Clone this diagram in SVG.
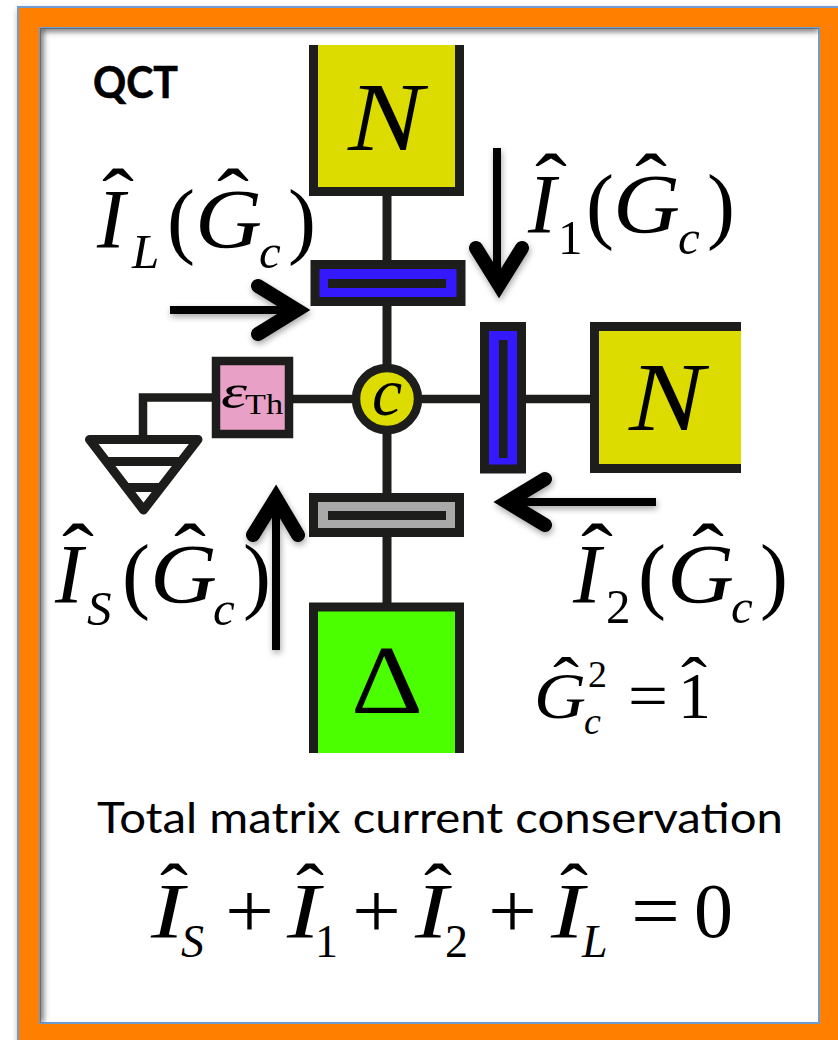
<svg xmlns="http://www.w3.org/2000/svg" width="838" height="1040" viewBox="0 0 838 1040">
<style>
.k{fill:none;stroke:#1d1d1b;stroke-width:9}
.w{fill:none;stroke:#1d1d1b;stroke-width:8.5}
.a{fill:none;stroke:#000;stroke-width:8}
.h{fill:none;stroke:#000;stroke-width:14;stroke-linecap:round;stroke-linejoin:miter;stroke-miterlimit:6}
.m{font-family:"Liberation Serif",serif;fill:#000;font-size:84px}
.i{font-style:italic}
.s{font-size:49px}
.t{font-size:78px}
.ts{font-size:46px}
.sm{font-size:66px}
.ss{font-size:38px}
.cal{font-family:Lato,"Open Sans",sans-serif;fill:#000}
</style>
<defs>
<filter id="sh" x="-30%" y="-30%" width="160%" height="160%"><feDropShadow dx="1" dy="3" stdDeviation="3" flood-color="#000" flood-opacity="0.35"/></filter>
<filter id="bl" x="-5%" y="-5%" width="110%" height="110%"><feGaussianBlur stdDeviation="3"/></filter>
<clipPath id="ic"><rect x="40" y="28" width="779" height="995"/></clipPath>
</defs>
<g id="frame">
<rect x="18" y="7" width="840" height="1053" fill="#ff7f00" stroke="#6f9ccf" stroke-width="2" filter="url(#sh)"/>
<rect x="40" y="28" width="779" height="995" fill="#fff" stroke="#6f9ccf" stroke-width="2"/>
<g clip-path="url(#ic)"><path d="M40 1023V28H819" fill="none" stroke="#555" stroke-width="6" filter="url(#bl)"/></g>
</g>
<g id="connectors">
<path class="k" d="M387 196V260M387 306V366M387 433V493M387 537V603"/>
<path class="w" d="M293 399H353M421 399H480M526 399H590M212 397.500H143V436"/>
</g>
<g id="node-n-top">
<rect x="313.500" y="45" width="146" height="146.500" fill="#dcdc00"/>
<path class="k" d="M313.500 45V191.500H459.500V45"/>
<text class="m i" x="348" y="150" style="font-size:97px" textLength="75" lengthAdjust="spacingAndGlyphs">N</text>
</g>
<g id="node-bar-l">
<rect x="315" y="264.500" width="146" height="37" fill="#3419ff" stroke="#1d1d1b" stroke-width="9"/>
<rect x="328" y="279" width="118" height="9" fill="#1d1d1b"/>
</g>
<g id="node-bar-1">
<rect x="484.500" y="326.500" width="37" height="142.500" fill="#3419ff" stroke="#1d1d1b" stroke-width="9"/>
<rect x="499" y="340" width="8.500" height="118" fill="#1d1d1b"/>
</g>
<g id="node-n-right">
<rect x="594.500" y="326.500" width="146.500" height="142.500" fill="#dcdc00"/>
<path class="k" d="M741 326.500H594.500V468.500H741"/>
<text class="m i" x="629" y="430" style="font-size:97px" textLength="75" lengthAdjust="spacingAndGlyphs">N</text>
</g>
<g id="node-c">
<circle cx="387" cy="399" r="31" fill="#dcdc00" stroke="#1d1d1b" stroke-width="8.500"/>
<text class="m i" x="372" y="415" style="font-size:68px">c</text>
</g>
<g id="node-eth">
<rect x="216" y="361" width="73" height="73" fill="#e8a0c6" stroke="#1d1d1b" stroke-width="8.500"/>
<text class="m i" x="221" y="408" style="font-size:48px" textLength="26" lengthAdjust="spacingAndGlyphs">ε</text>
<text class="m" x="245" y="414" style="font-size:29px" textLength="38" lengthAdjust="spacingAndGlyphs">Th</text>
</g>
<g id="node-ground">
<path d="M89.500 439.500H198L143.500 510Z" fill="#fff" stroke="#1d1d1b" stroke-width="9" stroke-linejoin="round"/>
<path class="k" d="M107 461.500H180M126 487.500H160"/>
</g>
<g id="node-bar-s">
<rect x="313.500" y="497.500" width="146" height="35" fill="#a9a9a9" stroke="#1d1d1b" stroke-width="9"/>
<rect x="328" y="511" width="118" height="9" fill="#1d1d1b"/>
</g>
<g id="node-delta">
<rect x="313.500" y="607" width="146" height="146" fill="#4cff00"/>
<path class="k" d="M313.500 753V607H459.500V753"/>
<text class="m" x="351" y="713" style="font-size:97px" textLength="72" lengthAdjust="spacingAndGlyphs">Δ</text>
</g>
<g id="arrows" filter="url(#sh)">
<path class="a" d="M170 310H300"/><path class="h" d="M258 286L297 310L258 334"/>
<path class="a" d="M497 148V285"/><path class="h" d="M476 248L499 285L522 248"/>
<path class="a" d="M276 650V500"/><path class="h" d="M253 535L276 498L298 535"/>
<path class="a" d="M656 502H510"/><path class="h" d="M545 479L507 502L545 525"/>
</g>
<g id="label-qct"><text class="cal" x="93" y="98" font-size="44" font-weight="700" stroke="#000" stroke-width=".6" textLength="85" lengthAdjust="spacingAndGlyphs">QCT</text></g>
<g id="label-il">
<text class="m i" x="97" y="248">I</text><text class="m" x="102" y="227" textLength="32" lengthAdjust="spacingAndGlyphs">ˆ</text>
<text class="m i s" x="132" y="268">L</text>
<text class="m" x="167" y="248">(</text>
<text class="m i" x="195" y="248" textLength="67" lengthAdjust="spacingAndGlyphs">G</text><text class="m" x="217" y="227" textLength="32" lengthAdjust="spacingAndGlyphs">ˆ</text>
<text class="m i s" x="259" y="268">c</text>
<text class="m" x="288" y="248">)</text>
</g>
<g id="label-i1">
<text class="m i" x="528" y="233">I</text><text class="m" x="535" y="212" textLength="32" lengthAdjust="spacingAndGlyphs">ˆ</text>
<text class="m s" x="558" y="254">1</text>
<text class="m" x="586" y="233">(</text>
<text class="m i" x="613" y="233" textLength="67" lengthAdjust="spacingAndGlyphs">G</text><text class="m" x="635" y="212" textLength="32" lengthAdjust="spacingAndGlyphs">ˆ</text>
<text class="m i s" x="678" y="254">c</text>
<text class="m" x="707" y="233">)</text>
</g>
<g id="label-is">
<text class="m i" x="55" y="603">I</text><text class="m" x="62" y="582" textLength="32" lengthAdjust="spacingAndGlyphs">ˆ</text>
<text class="m i s" x="87" y="625">S</text>
<text class="m" x="122" y="603">(</text>
<text class="m i" x="150" y="603" textLength="67" lengthAdjust="spacingAndGlyphs">G</text><text class="m" x="174" y="582" textLength="32" lengthAdjust="spacingAndGlyphs">ˆ</text>
<text class="m i s" x="213" y="625">c</text>
<text class="m" x="243" y="603">)</text>
</g>
<g id="label-i2">
<text class="m i" x="573" y="603">I</text><text class="m" x="581" y="582" textLength="32" lengthAdjust="spacingAndGlyphs">ˆ</text>
<text class="m s" x="606" y="623">2</text>
<text class="m" x="638" y="603">(</text>
<text class="m i" x="667" y="603" textLength="67" lengthAdjust="spacingAndGlyphs">G</text><text class="m" x="692" y="582" textLength="32" lengthAdjust="spacingAndGlyphs">ˆ</text>
<text class="m i s" x="731" y="623">c</text>
<text class="m" x="760" y="603">)</text>
</g>
<g id="label-g2">
<text class="m i sm" x="534" y="718" textLength="52" lengthAdjust="spacingAndGlyphs">G</text><text class="m sm" x="553" y="703" textLength="26" lengthAdjust="spacingAndGlyphs">ˆ</text>
<text class="m i ss" x="584" y="734">c</text>
<text class="m ss" x="588" y="687">2</text>
<text class="m sm" x="628" y="718" textLength="40" lengthAdjust="spacingAndGlyphs">=</text>
<text class="m sm" x="678" y="718">1</text><text class="m sm" x="681" y="703" textLength="26" lengthAdjust="spacingAndGlyphs">ˆ</text>
</g>
<g id="label-total"><text class="cal" x="97" y="833" font-size="43" textLength="686" lengthAdjust="spacingAndGlyphs">Total matrix current conservation</text></g>
<g id="label-sum">
<text class="m i t" x="151" y="937" textLength="33" lengthAdjust="spacingAndGlyphs">I</text><text class="m t" x="160" y="918" textLength="28" lengthAdjust="spacingAndGlyphs">ˆ</text>
<text class="m i ts" x="181" y="957">S</text>
<text class="m t" x="225" y="937" textLength="49" lengthAdjust="spacingAndGlyphs">+</text>
<text class="m i t" x="287" y="937" textLength="33" lengthAdjust="spacingAndGlyphs">I</text><text class="m t" x="296" y="918" textLength="28" lengthAdjust="spacingAndGlyphs">ˆ</text>
<text class="m ts" x="315" y="957">1</text>
<text class="m t" x="352" y="937" textLength="49" lengthAdjust="spacingAndGlyphs">+</text>
<text class="m i t" x="415" y="937" textLength="33" lengthAdjust="spacingAndGlyphs">I</text><text class="m t" x="424" y="918" textLength="28" lengthAdjust="spacingAndGlyphs">ˆ</text>
<text class="m ts" x="445" y="957">2</text>
<text class="m t" x="488" y="937" textLength="49" lengthAdjust="spacingAndGlyphs">+</text>
<text class="m i t" x="551" y="937" textLength="33" lengthAdjust="spacingAndGlyphs">I</text><text class="m t" x="560" y="918" textLength="28" lengthAdjust="spacingAndGlyphs">ˆ</text>
<text class="m i ts" x="582" y="957">L</text>
<text class="m t" x="631" y="937" textLength="49" lengthAdjust="spacingAndGlyphs">=</text>
<text class="m t" x="694" y="937">0</text>
</g>
</svg>
